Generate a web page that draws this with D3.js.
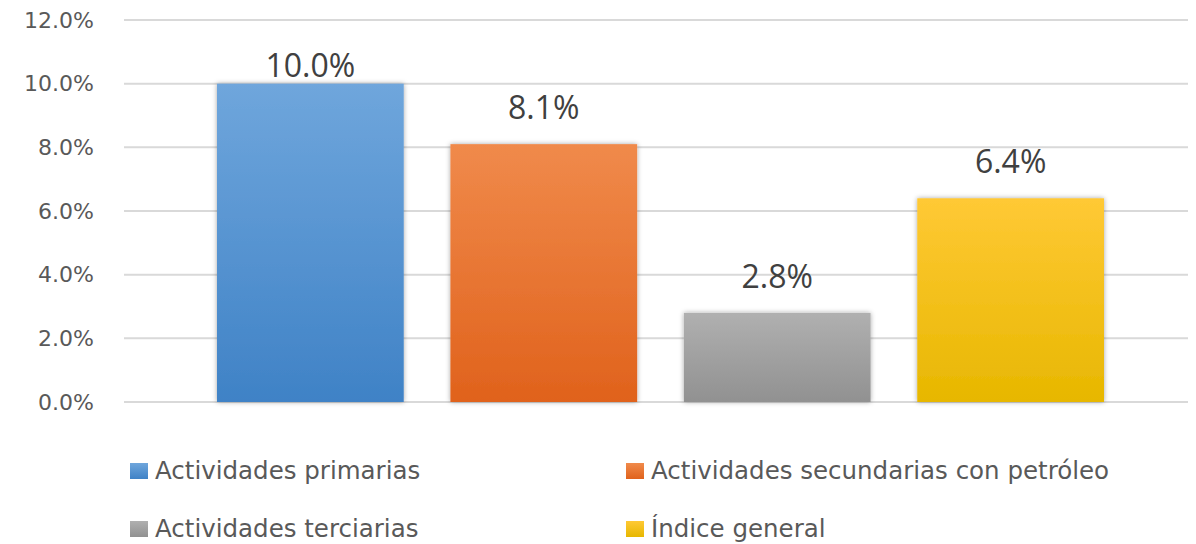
<!DOCTYPE html>
<html>
<head>
<meta charset="utf-8">
<script src="https://cdn.jsdelivr.net/npm/d3@7"></script>
<style>
  body { margin: 0; background: #fff; }
  text { fill: #595959; }
</style>
</head>
<body>
<div id="chart"></div>
<script>
const series = ["Actividades primarias", "Actividades secundarias con petróleo", "Actividades terciarias", "Índice general"];
const values = [10.0, 8.1, 2.8, 6.4];
const labels = ["10.0%", "8.1%", "2.8%", "6.4%"];
const yTicks = [0, 2, 4, 6, 8, 10, 12];
const topColors = ["#6fa6dc", "#f08a4b", "#b0b0b0", "#ffc935"];
const botColors = ["#3f82c6", "#e0621c", "#919191", "#e7b700"];

const width = 1196, height = 544;
const margin = {top: 20, right: 8, bottom: 142, left: 124};

const svg = d3.select("#chart").append("svg")
  .attr("width", width)
  .attr("height", height);

const defs = svg.append("defs");
series.forEach((s, i) => {
  const g = defs.append("linearGradient")
    .attr("id", "grad" + i)
    .attr("x1", 0).attr("y1", 0).attr("x2", 0).attr("y2", 1);
  g.append("stop").attr("offset", "0%").attr("stop-color", topColors[i]);
  g.append("stop").attr("offset", "100%").attr("stop-color", botColors[i]);
});
const shadow = defs.append("filter").attr("id", "shadow")
  .attr("x", "-10%").attr("y", "-10%").attr("width", "120%").attr("height", "120%");
shadow.append("feDropShadow")
  .attr("dx", 0).attr("dy", 0).attr("stdDeviation", 2.5)
  .attr("flood-color", "#000").attr("flood-opacity", 0.35);

const y = d3.scaleLinear()
  .domain([0, 12])
  .range([height - margin.bottom, margin.top]);

const x = d3.scaleBand()
  .domain(series)
  .range([217, 1104])
  .paddingInner(0.2)
  .paddingOuter(0);

// gridlines
svg.append("g")
  .selectAll("line")
  .data(yTicks)
  .join("line")
    .attr("x1", margin.left)
    .attr("x2", width - margin.right)
    .attr("y1", d => y(d))
    .attr("y2", d => y(d))
    .attr("stroke", "#d9d9d9")
    .attr("stroke-width", 2);

// y axis labels
const yAxis = g => g
  .attr("transform", `translate(${margin.left - 30},0)`)
  .call(d3.axisLeft(y).tickValues(yTicks).tickFormat(d => d.toFixed(1) + "%").tickSize(0).tickPadding(0))
  .call(g => g.select(".domain").remove())
  .call(g => g.selectAll(".tick text")
    .attr("font-family", "DejaVu Sans, sans-serif")
    .attr("font-size", 22)
    .attr("fill", "#595959"));

svg.append("g").call(yAxis);

// bars
svg.append("g")
  .selectAll("rect")
  .data(values)
  .join("rect")
    .attr("x", (d, i) => x(series[i]))
    .attr("y", d => y(d))
    .attr("width", x.bandwidth())
    .attr("height", d => y(0) - y(d))
    .attr("fill", (d, i) => `url(#grad${i})`)
    .attr("filter", "url(#shadow)");

// value labels
svg.append("g")
  .selectAll("text")
  .data(values)
  .join("text")
    .attr("x", (d, i) => x(series[i]) + x.bandwidth() / 2)
    .attr("y", d => Math.max(y(d) - 25, y(12) + 57))
    .attr("text-anchor", "middle")
    .attr("font-family", "Open Sans, sans-serif")
    .attr("font-size", 32)
    .style("fill", "#404040")
    .text((d, i) => labels[i]);

// legend
const legendCols = [130, 626];
const legendRows = [479, 537];
const legend = svg.append("g")
  .selectAll("g")
  .data(series)
  .join("g")
    .attr("transform", (d, i) => `translate(${legendCols[i % 2]},${legendRows[Math.floor(i / 2)]})`);

legend.append("rect")
  .attr("x", 0)
  .attr("y", -16)
  .attr("width", 18)
  .attr("height", 16)
  .attr("fill", (d, i) => `url(#grad${i})`);

legend.append("text")
  .attr("x", 25)
  .attr("y", 0)
  .attr("font-family", "DejaVu Sans, sans-serif")
  .attr("font-size", 24.5)
  .text(d => d);
</script>
</body>
</html>
